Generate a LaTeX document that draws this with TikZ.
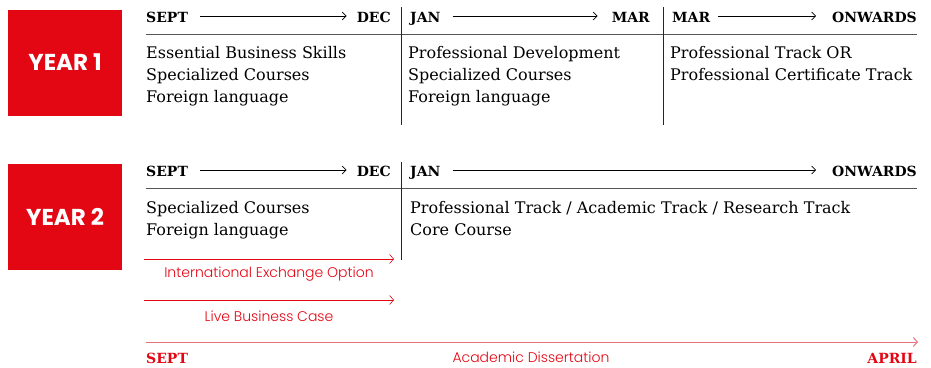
\documentclass[tikz,border=0pt]{standalone}
\usepackage{fontspec}
\setmainfont{DejaVu Serif}
\newfontfamily\yearfont{Poppins}[UprightFont=* Bold]
\newfontfamily\notefont{Poppins}[UprightFont=* Light]
\usetikzlibrary{arrows.meta}
\definecolor{brandred}{HTML}{E30613}
\definecolor{rulegrey}{HTML}{555555}
\definecolor{softred}{HTML}{E9737B}
\tikzset{
  yearbox/.style={fill=brandred, minimum width=114pt, minimum height=106pt, inner sep=0pt,
    text=white, font=\yearfont\fontsize{23}{23}\selectfont},
  month/.style={inner sep=0pt, font=\bfseries\fontsize{14}{14}\selectfont, anchor=base west},
  monthR/.style={month, anchor=base east},
  body/.style={inner sep=0pt, anchor=north west, align=left,
    font=\fontsize{16}{22}\selectfont},
  span/.style={-{Straight Barb[length=4pt,width=8pt]}, line width=0.7pt},
  divider/.style={line width=0.8pt, black!85},
  hrule/.style={line width=1pt, rulegrey},
  redspan/.style={-{Straight Barb[length=4pt,width=9pt]}, line width=0.6pt, brandred},
  note/.style={inner sep=0pt, text=brandred, font=\notefont\fontsize{14}{14}\selectfont},
}
\begin{document}
\begin{tikzpicture}[x=1pt, y=-1pt]
\useasboundingbox (0,0) rectangle (931,367);
% ---- Year 1 ----
\node[yearbox] (y1) at (65,62.5) {YEAR 1};
\node[month] (s1) at (146,22) {SEPT};
\node[monthR] (d1) at (391,22) {DEC};
\node[month] (j1) at (410,22) {JAN};
\node[monthR] (m1) at (650,22) {MAR};
\node[month] (m1b) at (672,22) {MAR};
\node[monthR] (o1) at (917,22) {ONWARDS};
\draw[span] ([xshift=12pt]s1.east |- 0,16) -- ([xshift=-10pt]d1.west |- 0,16);
\draw[span] ([xshift=12pt]j1.east |- 0,16) -- ([xshift=-14pt]m1.west |- 0,16);
\draw[span] ([xshift=8pt]m1b.east |- 0,16) -- ([xshift=-16pt]o1.west |- 0,16);
\coordinate (r1a) at (146,34);
\coordinate (r1b) at (917,34);
\draw[hrule] (r1a) -- (r1b);
\coordinate (v1a) at (401,7); \coordinate (v1b) at (401,125);
\coordinate (v2a) at (663,7); \coordinate (v2b) at (663,125);
\draw[divider] (v1a) -- (v1b);
\draw[divider] (v2a) -- (v2b);
\node[body] (b11) at (146,46) {Essential Business Skills\\Specialized Courses\\Foreign language};
\node[body] (b12) at (408,46) {Professional Development\\Specialized Courses\\Foreign language};
\node[body] (b13) at (670,46) {Professional Track OR\\Professional Certificate Track};
% ---- Year 2 ----
\node[yearbox] (y2) at (65,217) {YEAR 2};
\node[month] (s2) at (146,176) {SEPT};
\node[monthR] (d2) at (391,176) {DEC};
\node[month] (j2) at (410,176) {JAN};
\node[monthR] (o2) at (917,176) {ONWARDS};
\draw[span] ([xshift=12pt]s2.east |- 0,170) -- ([xshift=-10pt]d2.west |- 0,170);
\draw[span] ([xshift=12pt]j2.east |- 0,170) -- ([xshift=-16pt]o2.west |- 0,170);
\coordinate (r2a) at (146,188);
\coordinate (r2b) at (917,188);
\draw[hrule] (r2a) -- (r2b);
\coordinate (v3a) at (401,162); \coordinate (v3b) at (401,260);
\draw[divider] (v3a) -- (v3b);
\node[body] (b21) at (146,201) {Specialized Courses\\Foreign language};
\node[body] (b22) at (410,201) {Professional Track / Academic Track / Research Track\\Core Course};
% ---- Options ----
\coordinate (ie0) at (144,259); \coordinate (ie1) at (394,259);
\draw[redspan] (ie0) -- (ie1);
\node[note] (ie) at (269,274) {International Exchange Option};
\coordinate (lb0) at (144,300); \coordinate (lb1) at (394,300);
\draw[redspan] (lb0) -- (lb1);
\node[note] (lb) at (269,316) {Live Business Case};
\coordinate (ad0) at (146,342); \coordinate (ad1) at (918,342);
\draw[redspan, softred, line width=1pt] (ad0) -- (ad1);
\node[month, text=brandred] (s3) at (146,363) {SEPT};
\node[monthR, text=brandred] (a3) at (917,363) {APRIL};
\node[note] (ad) at (531,357) {Academic Dissertation};
\end{tikzpicture}
\end{document}
